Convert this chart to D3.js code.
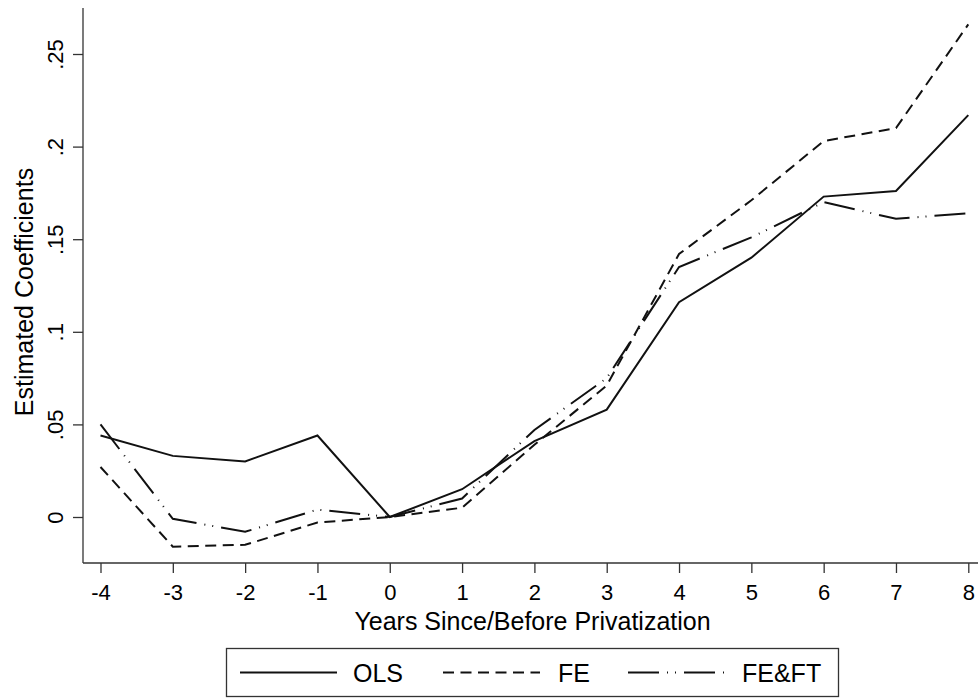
<!DOCTYPE html>
<html>
<head>
<meta charset="utf-8">
<script src="https://cdn.jsdelivr.net/npm/d3@7"></script>
<style>
  html, body { margin: 0; padding: 0; background: #fff; }
  svg { display: block; font-family: "Liberation Sans", Arial, Helvetica, sans-serif; }
</style>
</head>
<body>
<svg id="chart" width="978" height="698"></svg>
<script>
const width = 978;
const height = 698;

// years relative to privatization
const years = [-4, -3, -2, -1, 0, 1, 2, 3, 4, 5, 6, 7, 8];
const olsValues  = [0.044, 0.033, 0.030, 0.044, 0, 0.015, 0.041, 0.058, 0.116, 0.140, 0.173, 0.176, 0.217];
const feValues   = [0.027, -0.016, -0.015, -0.003, 0, 0.005, 0.039, 0.071, 0.142, 0.171, 0.203, 0.210, 0.266];
const feftValues = [0.050, -0.001, -0.008, 0.004, 0, 0.010, 0.047, 0.075, 0.135, 0.151, 0.170, 0.161, 0.164];
const yTicks = [0, 0.05, 0.1, 0.15, 0.2, 0.25];
const seriesNames = ["OLS", "FE", "FE&FT"];

const dashes = {
  "OLS": null,
  "FE": "11,6.5",
  "FE&FT": "31,8,1,7,1,8"
};

const series = [
  { name: "OLS", values: olsValues },
  { name: "FE", values: feValues },
  { name: "FE&FT", values: feftValues }
];

// plot region
const plot = { left: 83, right: 978, top: 8, bottom: 563 };

const x = d3.scaleLinear().domain([-4, 8]).range([100.5, 968.3]);
const y = d3.scaleLinear().domain([0, 0.25]).range([517, 54]);

const svg = d3.select("#chart");
svg.append("rect").attr("width", width).attr("height", height).attr("fill", "#fff");

const fmt = d => d === 0 ? "0" : d3.format(".2~f")(d).replace(/^0/, "");

// y axis
const yAxis = svg.append("g")
  .attr("transform", `translate(${plot.left},0)`)
  .call(d3.axisLeft(y).tickValues(yTicks).tickFormat(fmt).tickSize(10));
yAxis.select(".domain").remove();
yAxis.selectAll(".tick line").attr("stroke", "#333").attr("stroke-width", 1.3);
yAxis.selectAll(".tick text")
  .attr("x", 0)
  .attr("y", -20)
  .attr("dy", 0)
  .attr("transform", "rotate(-90)")
  .attr("text-anchor", "middle")
  .attr("font-size", 22)
  .attr("fill", "#000");
svg.append("line")
  .attr("x1", plot.left).attr("x2", plot.left)
  .attr("y1", plot.top).attr("y2", plot.bottom)
  .attr("stroke", "#333").attr("stroke-width", 1.3);

// x axis
const xAxis = svg.append("g")
  .attr("transform", `translate(0,${plot.bottom})`)
  .call(d3.axisBottom(x).tickValues(years).tickFormat(d => String(d)).tickSize(10));
xAxis.select(".domain").remove();
xAxis.selectAll(".tick line").attr("stroke", "#333").attr("stroke-width", 1.3);
xAxis.selectAll(".tick text")
  .attr("y", 37)
  .attr("dy", 0)
  .attr("font-size", 22)
  .attr("fill", "#000");
svg.append("line")
  .attr("x1", plot.left).attr("x2", plot.right)
  .attr("y1", plot.bottom).attr("y2", plot.bottom)
  .attr("stroke", "#333").attr("stroke-width", 1.3);

// axis titles
svg.append("text")
  .attr("x", 532.5)
  .attr("y", 630)
  .attr("text-anchor", "middle")
  .attr("font-size", 25)
  .text("Years Since/Before Privatization");

svg.append("text")
  .attr("transform", "translate(33,292) rotate(-90)")
  .attr("text-anchor", "middle")
  .attr("font-size", 25)
  .text("Estimated Coefficients");

// lines
const line = d3.line()
  .x((d, i) => x(years[i]))
  .y(d => y(d));

svg.append("g")
  .selectAll("path")
  .data(series)
  .join("path")
  .attr("d", d => line(d.values))
  .attr("fill", "none")
  .attr("stroke", "#111")
  .attr("stroke-width", 2)
  .attr("stroke-dasharray", d => dashes[d.name]);

// legend
const legend = svg.append("g");
legend.append("rect")
  .attr("x", 226.5).attr("y", 648.5)
  .attr("width", 612).attr("height", 48)
  .attr("fill", "#fff")
  .attr("stroke", "#333").attr("stroke-width", 1.3);

const legendX = [240, 443, 628];
const legendItem = legend.selectAll("g.item")
  .data(seriesNames)
  .join("g")
  .attr("class", "item")
  .attr("transform", (d, i) => `translate(${legendX[i]},672.5)`);

legendItem.append("line")
  .attr("x1", 0).attr("x2", 97)
  .attr("y1", 0).attr("y2", 0)
  .attr("stroke", "#111")
  .attr("stroke-width", 2)
  .attr("stroke-dasharray", d => dashes[d]);

legendItem.append("text")
  .attr("x", (d, i) => [113, 115, 114][i])
  .attr("y", 9)
  .attr("font-size", 25)
  .text(d => d);
</script>
</body>
</html>
